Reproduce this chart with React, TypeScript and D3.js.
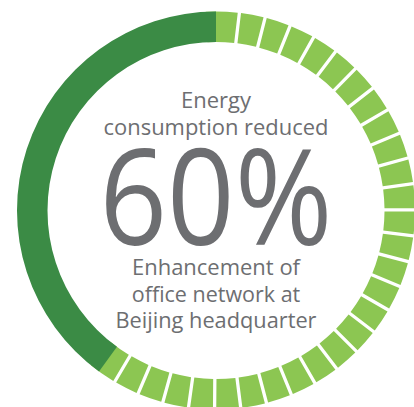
import React from "react";
import * as d3 from "d3";

// ---- data ----
const reducedPercent = [60]; // share of the ring drawn in segmented light green
const topLines = ["Energy", "consumption reduced"];
const bigLabel = ["60%"];
const bottomLines = ["Enhancement of", "office network at", "Beijing headquarter"];

// ---- layout ----
const W = 414;
const H = 407;
const cx = 216;
const cy = 210.5;
const rOuter = 199;
const rInner = 168.5;
const segStepDeg = 7.55;
const segOffsetDeg = -0.8;
const gapPx = 3.3;

const DARK = "#3b8b45";
const LIGHT = "#8cc652";
const TEXT = "#6d6e71";
const FONT = "'Open Sans', 'Noto Sans', sans-serif";

const topLayout = [
  { y: 108.3, w: 70 },
  { y: 135, w: 225 },
];
const bigLayout = { y: 245, w: 233 };
const bottomLayout = [
  { y: 275, w: 168 },
  { y: 301.7, w: 168.5 },
  { y: 328.3, w: 201 },
];

export default function App() {
  const angle = d3.scaleLinear().domain([0, 100]).range([0, 2 * Math.PI]);
  const endLight = angle(reducedPercent[0]);
  const step = (segStepDeg * Math.PI) / 180;
  const off = (segOffsetDeg * Math.PI) / 180;

  const segs: { s: number; e: number }[] = [];
  for (let k = 0; k < 200; k++) {
    let s = k * step + off;
    let e = (k + 1) * step + off;
    if (s >= endLight) break;
    if (k === 0) s = -0.06;
    if (e > endLight) e = endLight + 0.06;
    segs.push({ s, e });
  }

  const segArc = d3
    .arc<{ s: number; e: number }>()
    .innerRadius(rInner)
    .outerRadius(rOuter)
    .startAngle((d) => d.s)
    .endAngle((d) => d.e)
    .padRadius(rOuter)
    .padAngle(gapPx / rOuter);

  const darkArc = d3
    .arc<any>()
    .innerRadius(rInner)
    .outerRadius(rOuter)
    .startAngle(endLight)
    .endAngle(angle(100));

  return (
    <svg
      width={W}
      height={H}
      viewBox={`0 0 ${W} ${H}`}
      style={{ position: "absolute", left: 0, top: 0, background: "#fff" }}
    >
      <g transform={`translate(${cx},${cy})`}>
        {segs.map((d, i) => (
          <path key={i} d={segArc(d) || ""} fill={LIGHT} />
        ))}
        <path d={darkArc({}) || ""} fill={DARK} />
      </g>
      <g fill={TEXT} fontFamily={FONT} textAnchor="middle">
        {topLines.map((t, i) => (
          <text
            key={t}
            x={cx}
            y={topLayout[i].y}
            fontSize={22}
            textLength={topLayout[i].w}
            lengthAdjust="spacingAndGlyphs"
          >
            {t}
          </text>
        ))}
        <text
          x={cx}
          y={bigLayout.y}
          fontSize={133}
          textLength={bigLayout.w}
          lengthAdjust="spacingAndGlyphs"
        >
          {bigLabel[0]}
        </text>
        {bottomLines.map((t, i) => (
          <text
            key={t}
            x={cx}
            y={bottomLayout[i].y}
            fontSize={22}
            textLength={bottomLayout[i].w}
            lengthAdjust="spacingAndGlyphs"
          >
            {t}
          </text>
        ))}
      </g>
    </svg>
  );
}
